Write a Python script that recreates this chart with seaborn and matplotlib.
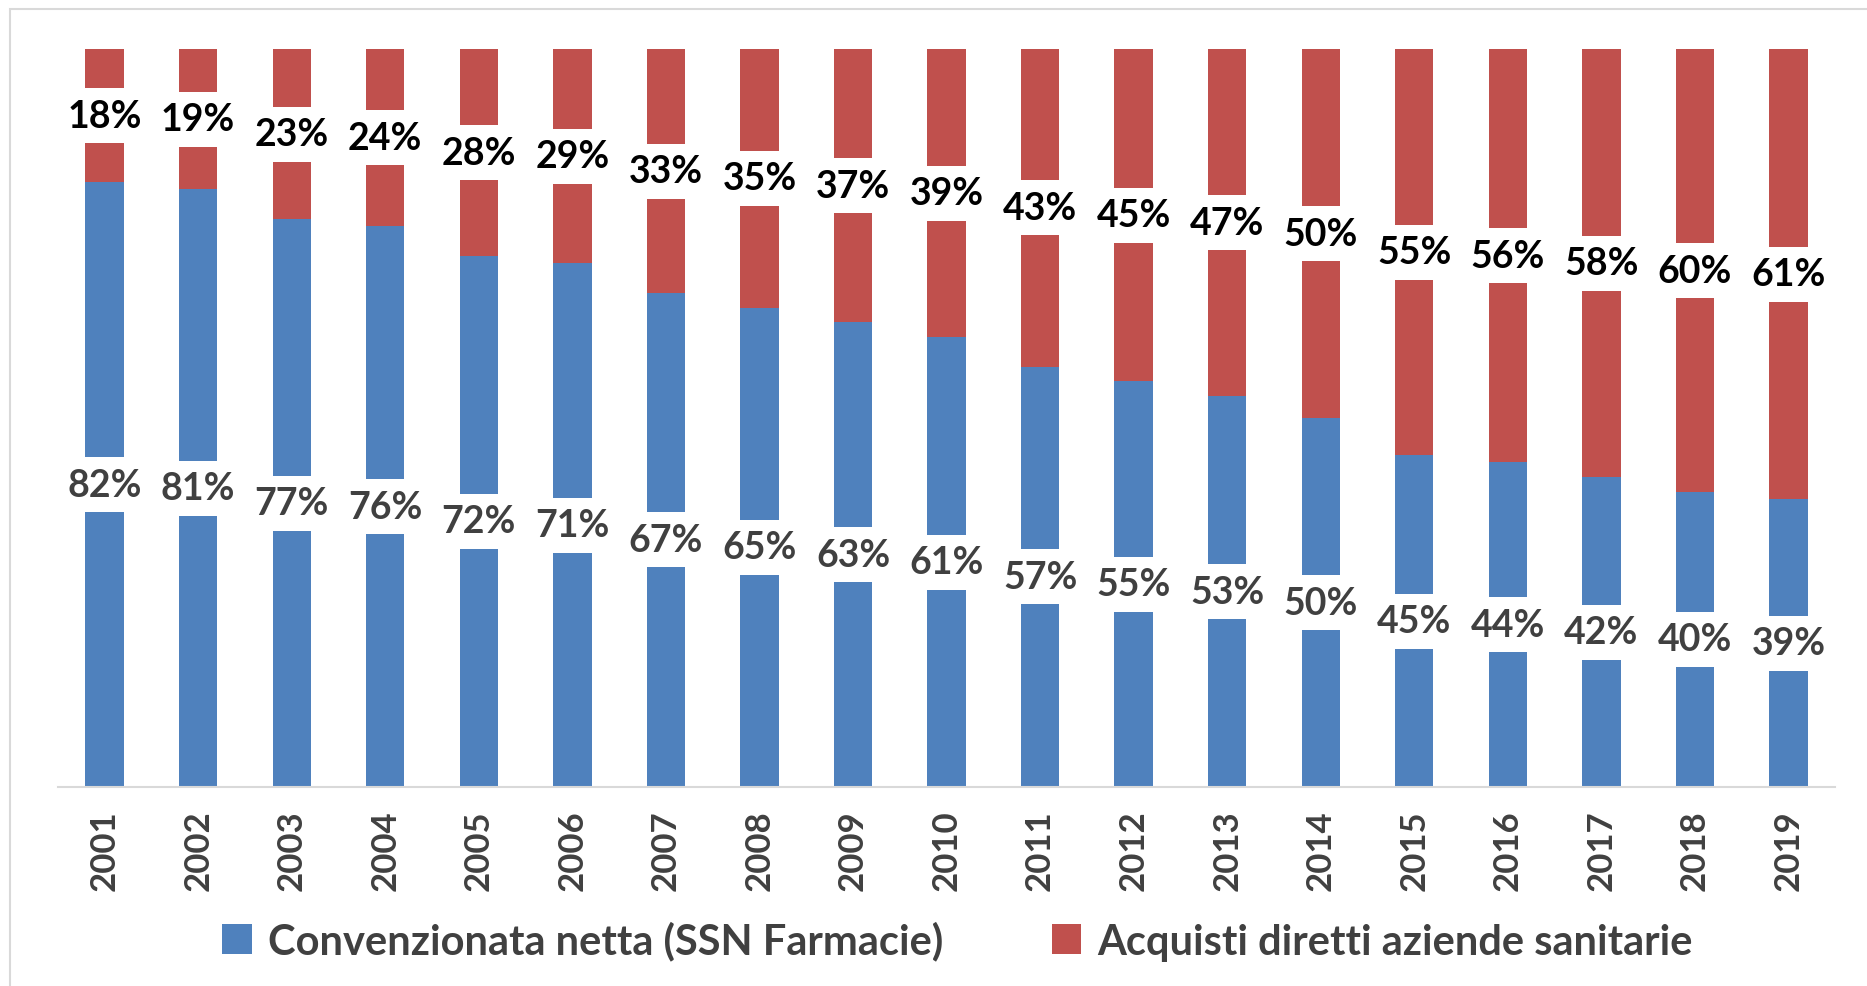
import matplotlib
matplotlib.use("Agg")
import matplotlib.pyplot as plt
import seaborn as sns
import numpy as np
from matplotlib.patches import Rectangle, Patch

years = ["2001", "2002", "2003", "2004", "2005", "2006", "2007", "2008", "2009", "2010",
         "2011", "2012", "2013", "2014", "2015", "2016", "2017", "2018", "2019"]
convenzionata = [82, 81, 77, 76, 72, 71, 67, 65, 63, 61, 57, 55, 53, 50, 45, 44, 42, 40, 39]
acquisti = [18, 19, 23, 24, 28, 29, 33, 35, 37, 39, 43, 45, 47, 50, 55, 56, 58, 60, 61]
series_names = ["Convenzionata netta (SSN Farmacie)", "Acquisti diretti aziende sanitarie"]

BLUE = "#4F81BD"
RED = "#C0504D"

sns.set_theme(style="white")
plt.rcParams["font.family"] = ["Lato", "DejaVu Sans"]
plt.rcParams["font.weight"] = "bold"

fig = plt.figure(figsize=(18.67, 9.87), dpi=100)
ax = fig.add_axes([0.031, 0.2016, 0.952, 0.7474])

sns.barplot(x=years, y=convenzionata, color=BLUE, saturation=1, width=0.41,
            errorbar=None, ax=ax, linewidth=0)
sns.barplot(x=years, y=acquisti, bottom=convenzionata, color=RED, saturation=1, width=0.41,
            errorbar=None, ax=ax, linewidth=0)

box = dict(boxstyle="square,pad=0.28", facecolor="white", edgecolor="none")
ax.bar_label(ax.containers[0], labels=[f"{v}%" for v in convenzionata], label_type="center",
             fontsize=27, fontweight="bold", color="#404040", bbox=box)
ax.bar_label(ax.containers[1], labels=[f"{v}%" for v in acquisti], label_type="center",
             fontsize=27, fontweight="bold", color="black", bbox=box)

ax.set_ylim(0, 100)
ax.set_xlim(-0.5, len(years) - 0.5)
ax.set_yticks([])
for s in ["top", "right", "left"]:
    ax.spines[s].set_visible(False)
ax.spines["bottom"].set_color("#D9D9D9")
ax.spines["bottom"].set_linewidth(1.5)
ax.tick_params(axis="x", length=0, pad=16, labelsize=25, labelcolor="#404040", rotation=90)
for t in ax.get_xticklabels():
    t.set_fontweight("bold")
ax.set_xlabel("")
ax.set_ylabel("")

handles = [Patch(facecolor=BLUE, edgecolor="none"), Patch(facecolor=RED, edgecolor="none")]
leg = fig.legend(handles, series_names, loc="center", bbox_to_anchor=(0.513, 0.046), ncol=2,
                 frameon=False, fontsize=30, handlelength=0.7, handleheight=0.7,
                 handletextpad=0.4, columnspacing=2.6)
for t in leg.get_texts():
    t.set_color("#404040")
    t.set_fontweight("bold")

fig.patches.append(Rectangle((10 / 1867, -0.1), 1.2, 1.1 - 10 / 987, transform=fig.transFigure,
                             fill=False, edgecolor="#D9D9D9", linewidth=1.5, zorder=0))

fig.savefig("out.png", dpi=100, facecolor="white")
